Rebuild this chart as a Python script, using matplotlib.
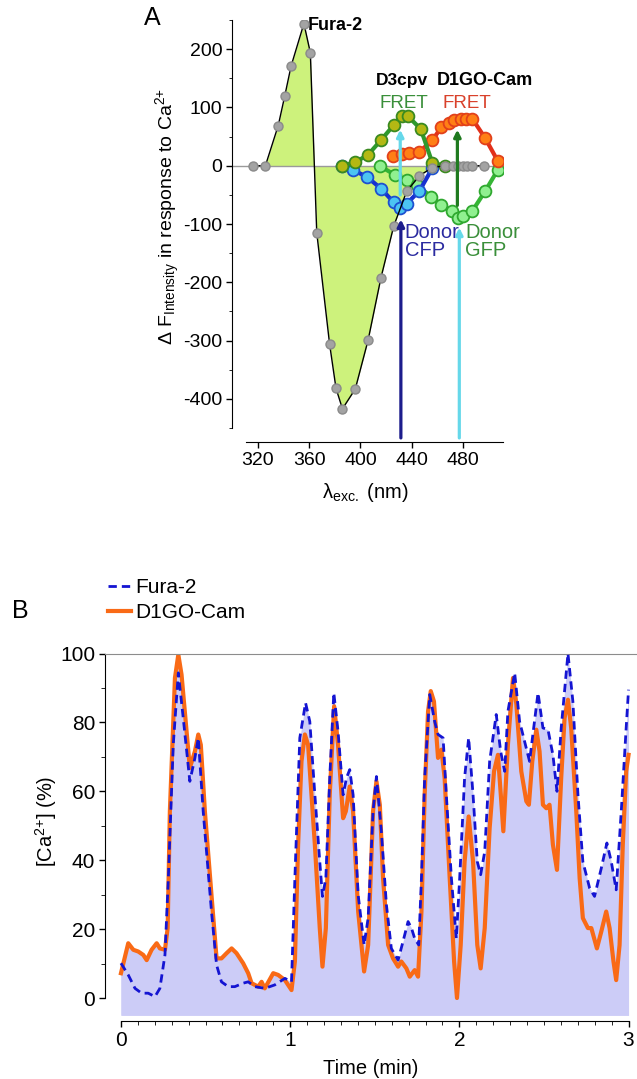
import numpy as np
import matplotlib
matplotlib.use("Agg")
import matplotlib.pyplot as plt

plt.rcParams['font.family'] = ['Liberation Sans', 'DejaVu Sans']
plt.rcParams['axes.unicode_minus'] = False
plt.rcParams['mathtext.fontset'] = 'custom'
plt.rcParams['mathtext.rm'] = 'Liberation Sans'
plt.rcParams['mathtext.it'] = 'Liberation Sans:italic'
plt.rcParams['mathtext.bf'] = 'Liberation Sans:bold'

# ---- panel A: excitation spectra (delta F in response to Ca2+) ----
fura_nm = [316, 326, 336, 341, 346, 356, 361, 366, 376, 381, 386, 396, 406, 416, 426, 436, 446, 456, 466, 472, 476, 480, 483, 487, 496]
fura_dF = [0, 0, 69, 119, 171, 244, 194, -115, -306, -382, -417, -383, -299, -192, -103, -44, -17, -3, 0, 0, 0, 0, 0, 0, 0]

d3_fret_nm = [386, 396, 406, 416, 426, 432, 437, 447, 456, 466]
d3_fret_dF = [0, 6, 19, 44, 70, 86, 85, 63, 5, 0]

d3_cfp_nm = [386, 394, 405, 416, 426, 431, 436, 446, 456]
d3_cfp_dF = [0, -7, -19, -39, -63, -72, -65, -43, -4]

d1_fret_nm = [425, 432, 438, 446, 456, 463, 469, 473, 478, 482, 487, 497, 507]
d1_fret_dF = [16, 20, 22, 24, 44, 66, 73, 78, 80, 81, 81, 48, 8]

d1_gfp_nm = [415, 427, 436, 444, 455, 463, 471, 476, 480, 487, 497, 507]
d1_gfp_dF = [0, -16, -24, -33, -53, -67, -78, -90, -87, -78, -44, -7]

# ---- panel B: [Ca2+] time courses ----
t_fura = [0.0, 0.043, 0.083, 0.122, 0.161, 0.201, 0.230, 0.260, 0.280, 0.309, 0.339, 0.368, 0.407, 0.437,
          0.457, 0.486, 0.535, 0.565, 0.594, 0.634, 0.673, 0.722, 0.752, 0.791, 0.850, 0.909, 0.969, 1.008,
          1.028, 1.057, 1.091, 1.116, 1.146, 1.175, 1.191, 1.211, 1.234, 1.258, 1.283, 1.313, 1.333, 1.352,
          1.372, 1.402, 1.437, 1.461, 1.490, 1.510, 1.539, 1.569, 1.598, 1.638, 1.667, 1.697, 1.717, 1.736,
          1.760, 1.776, 1.795, 1.825, 1.854, 1.874, 1.904, 1.923, 1.953, 1.982, 2.002, 2.031, 2.055, 2.081,
          2.106, 2.126, 2.150, 2.179, 2.218, 2.244, 2.268, 2.287, 2.327, 2.356, 2.415, 2.465, 2.494, 2.524,
          2.553, 2.577, 2.602, 2.642, 2.671, 2.701, 2.730, 2.770, 2.799, 2.839, 2.872, 2.898, 2.927, 2.957,
          2.986, 3.0]
ca_fura = [10.1, 6.7, 2.8, 1.4, 1.4, 0.4, 2.8, 12.5, 34.8, 73.5, 94.4, 81.3, 62.9, 69.7,
           75.5, 54.2, 25.1, 9.6, 4.7, 3.3, 3.3, 4.3, 4.7, 3.3, 2.8, 3.8, 5.7, 4.7,
           34.8, 75.5, 85.7, 80.3, 59.0, 39.6, 29.5, 34.8, 63.9, 88.6, 77.4, 59.0, 63.9, 66.3,
           59.0, 29.9, 15.4, 23.2, 54.2, 64.3, 48.4, 27.0, 14.4, 11.0, 16.4, 22.2, 20.3, 17.3,
           15.4, 34.8, 63.9, 88.1, 80.3, 76.5, 75.5, 59.0, 34.8, 17.3, 34.8, 63.9, 75.5, 59.0,
           39.6, 35.8, 42.5, 68.7, 82.3, 71.6, 65.8, 83.2, 94.4, 80.3, 68.7, 88.6, 78.4, 77.9,
           70.6, 60.0, 78.4, 100.0, 86.1, 59.0, 39.6, 31.9, 29.5, 37.7, 45.0, 39.6, 31.4, 54.2,
           78.4, 89.5]

t_d1 = [0.0, 0.043, 0.073, 0.102, 0.132, 0.152, 0.181, 0.211, 0.230, 0.260, 0.276, 0.289, 0.319, 0.339,
        0.358, 0.407, 0.437, 0.457, 0.472, 0.496, 0.535, 0.565, 0.594, 0.624, 0.654, 0.683, 0.722, 0.752,
        0.772, 0.811, 0.831, 0.850, 0.900, 0.929, 0.969, 1.008, 1.028, 1.047, 1.067, 1.087, 1.106, 1.146,
        1.175, 1.191, 1.211, 1.234, 1.260, 1.283, 1.313, 1.329, 1.352, 1.372, 1.402, 1.437, 1.461, 1.490,
        1.510, 1.530, 1.549, 1.579, 1.608, 1.638, 1.657, 1.687, 1.707, 1.736, 1.756, 1.776, 1.795, 1.815,
        1.831, 1.850, 1.874, 1.894, 1.913, 1.943, 1.969, 1.986, 2.008, 2.031, 2.055, 2.081, 2.106, 2.126,
        2.150, 2.179, 2.205, 2.228, 2.245, 2.260, 2.287, 2.317, 2.337, 2.366, 2.396, 2.411, 2.431, 2.455,
        2.474, 2.494, 2.514, 2.533, 2.553, 2.577, 2.602, 2.622, 2.642, 2.661, 2.691, 2.711, 2.730, 2.760,
        2.780, 2.813, 2.839, 2.868, 2.888, 2.911, 2.927, 2.947, 2.966, 2.986, 3.0]
ca_d1 = [7.2, 15.9, 14.0, 13.5, 12.5, 11.0, 14.0, 15.9, 14.4, 14.0, 20.3, 54.2, 92.9, 99.7,
         93.9, 66.8, 71.6, 76.5, 73.5, 54.2, 29.9, 11.5, 11.5, 13.0, 14.4, 13.0, 10.1, 7.2,
         4.3, 3.3, 4.7, 2.8, 7.2, 6.7, 5.2, 2.3, 10.6, 44.5, 68.7, 76.5, 73.5, 44.5,
         20.3, 9.1, 20.3, 59.0, 84.7, 73.5, 52.2, 54.2, 61.4, 54.2, 25.1, 7.7, 15.4, 54.2,
         62.9, 56.1, 34.8, 15.4, 11.5, 9.1, 10.6, 8.6, 6.2, 8.1, 6.2, 25.1, 59.0, 83.2,
         89.1, 86.1, 69.7, 72.1, 63.9, 34.8, 10.6, 0.0, 15.4, 39.6, 52.7, 39.6, 15.4, 8.6,
         20.3, 49.3, 65.8, 70.6, 59.0, 48.4, 73.5, 92.9, 85.2, 65.8, 57.1, 56.1, 68.7, 77.9,
         71.6, 56.1, 55.1, 56.1, 44.5, 37.2, 63.9, 81.3, 86.6, 78.4, 54.2, 34.8, 23.2, 20.3,
         20.3, 14.4, 19.3, 25.1, 20.3, 10.6, 5.2, 15.4, 44.5, 65.8, 70.6]

fig = plt.figure(figsize=(6.37, 10.79), dpi=100)

# ================= panel A =================
axA = fig.add_axes([0.3642, 0.6033, 0.4254, 0.3781])
axA.set_xlim(300, 511)
axA.set_ylim(-450, 250)
axA.spines['top'].set_visible(False)
axA.spines['right'].set_visible(False)
axA.spines['bottom'].set_position(('outward', 10))
axA.spines['bottom'].set_bounds(311, 511)
axA.set_xticks([320, 360, 400, 440, 480])
axA.set_yticks([200, 100, 0, -100, -200, -300, -400])
axA.set_yticks(np.arange(-450, 251, 50), minor=True)
axA.tick_params(labelsize=14, length=4, width=1, pad=3)
axA.tick_params(which='minor', length=2.5)

axA.axhline(0, color='#9a9a9a', lw=1, zorder=1)
axA.fill_between(fura_nm, fura_dF, 0, color='#cdf27c', lw=0, zorder=0)

mk = dict(marker='o', markersize=8.5, markeredgewidth=1.3)
axA.plot(d1_gfp_nm, d1_gfp_dF, color='#35b535', markerfacecolor='#90f090', markeredgecolor='#2fa82f', lw=3, zorder=3, **mk)
axA.plot(d1_fret_nm, d1_fret_dF, color='#e2301a', markerfacecolor='#ff7f15', markeredgecolor='#e2401a', lw=3, zorder=3, **mk)
axA.plot(d3_cfp_nm, d3_cfp_dF, color='#1730d0', markerfacecolor='#4cc4f2', markeredgecolor='#1d50d0', lw=3, zorder=4, **mk)
axA.plot(d3_fret_nm, d3_fret_dF, color='#2e9a2e', markerfacecolor='#b3b814', markeredgecolor='#3a8a20', lw=3, zorder=4, **mk)
axA.plot(fura_nm, fura_dF, color='black', lw=1, marker='o', markersize=6.5,
         markerfacecolor='#a3a3a3', markeredgecolor='#8a8a8a', zorder=5)

# arrows
arr = dict(arrowstyle='-|>', mutation_scale=10, shrinkA=0, shrinkB=0)
axA.annotate('', xy=(431.5, -92), xytext=(431.5, -467), annotation_clip=False,
             arrowprops=dict(color='#1c1c8c', lw=2.3, **arr), zorder=6)
axA.annotate('', xy=(477, -106), xytext=(477, -467), annotation_clip=False,
             arrowprops=dict(color='#66d8ea', lw=2.3, **arr), zorder=6)
axA.annotate('', xy=(431, 62), xytext=(431, -50),
             arrowprops=dict(color='#66d8ea', lw=2.3, **arr), zorder=6)
axA.annotate('', xy=(475.5, 62), xytext=(475.5, -68),
             arrowprops=dict(color='#1f7a1f', lw=2.3, **arr), zorder=6)

axA.text(359, 240, 'Fura-2', fontsize=13, fontweight='bold', ha='left', va='center')
axA.text(432, 146, 'D3cpv', fontsize=12.5, fontweight='bold', ha='center', va='center')
axA.text(497, 146, 'D1GO-Cam', fontsize=13, fontweight='bold', ha='center', va='center', clip_on=False)
axA.text(433.5, 107, 'FRET', fontsize=13.5, color='#3a8f3a', ha='center', va='center')
axA.text(483, 107, 'FRET', fontsize=13.5, color='#d9412b', ha='center', va='center')
axA.text(434.5, -130, 'Donor\nCFP', fontsize=14.5, color='#2b2ba0', ha='left', va='center', linespacing=0.95)
axA.text(481.5, -130, 'Donor\nGFP', fontsize=14.5, color='#3a8f3a', ha='left', va='center', linespacing=0.95, clip_on=False)

fig.text(168 / 637, 1 - 216 / 1079, r'Δ F$_{\mathrm{Intensity}}$ in response to Ca$^{2{+}}$',
         rotation=90, fontsize=14, ha='center', va='center')
fig.text(365 / 637, 1 - 493 / 1079, r'λ$_{\mathrm{exc.}}$ (nm)', fontsize=14.5, ha='center', va='center')
fig.text(152 / 637, 1 - 18 / 1079, 'A', fontsize=18, ha='center', va='center')

# ================= panel B =================
axB = fig.add_axes([0.1648, 0.0591, 0.8352, 0.3352])
axB.set_xlim(-0.0945, 3.05)
axB.set_ylim(-5, 100)
axB.spines['right'].set_visible(False)
axB.spines['top'].set_color('#8c8c8c')
axB.spines['left'].set_bounds(0, 100)
axB.spines['bottom'].set_position(('outward', 4))
axB.spines['bottom'].set_bounds(0, 3)
axB.set_xticks([0, 1, 2, 3])
axB.set_xticks(np.arange(0, 3.01, 0.1), minor=True)
axB.set_yticks(np.arange(0, 101, 20))
axB.set_yticks(np.arange(0, 101, 10), minor=True)
axB.tick_params(labelsize=15, length=4, width=1, pad=3)
axB.tick_params(which='minor', length=3)

fill_col = '#ccccf7'
axB.fill_between(t_fura, ca_fura, -5, color=fill_col, lw=0, zorder=0)
axB.fill_between(t_d1, ca_d1, -5, color=fill_col, lw=0, zorder=0)
axB.plot(t_fura, ca_fura, color='#1414d2', lw=2, dashes=(3, 1.8), label='Fura-2', zorder=3)
axB.plot(t_d1, ca_d1, color='#f96a16', lw=3, label='D1GO-Cam', zorder=2)

fig.legend(loc='upper left', bbox_to_anchor=(108 / 637, 1 - 578 / 1079), frameon=False,
           fontsize=15, handlelength=1.1, handletextpad=0.2, labelspacing=0.3,
           borderpad=0, borderaxespad=0)

axB.set_xlabel('Time (min)', fontsize=14.5, labelpad=7)
fig.text(46 / 637, 1 - 821 / 1079, r'[Ca$^{2{+}}$] (%)', rotation=90, fontsize=14.5, ha='center', va='center')
fig.text(20 / 637, 1 - 611 / 1079, 'B', fontsize=18, ha='center', va='center')

fig.savefig('out.png', dpi=100)
